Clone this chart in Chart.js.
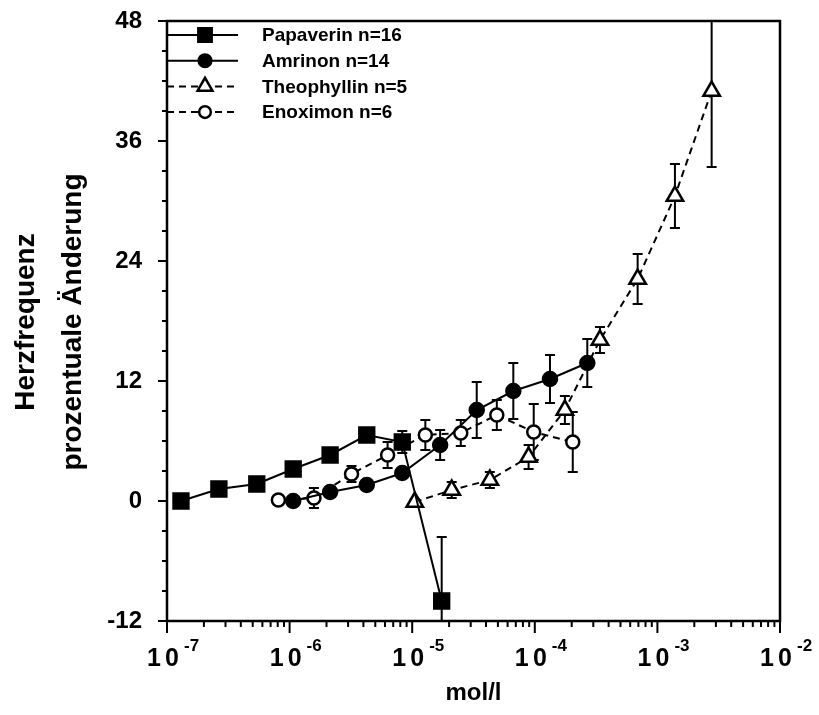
<!DOCTYPE html>
<html>
<head>
<meta charset="utf-8">
<script src="https://cdn.jsdelivr.net/npm/chart.js@4.4.1/dist/chart.umd.min.js"></script>
<style>
  html, body { margin: 0; background: #fff; }
</style>
</head>
<body>
<canvas id="c" width="819" height="715"></canvas>
<script>
// values (x in mol/l, y in % change)
const papaverinConc = [1.3e-7, 2.65e-7, 5.4e-7, 1.07e-6, 2.14e-6, 4.26e-6, 8.3e-6, 1.74e-5];
const papaverinValues = [0, 1.2, 1.7, 3.2, 4.6, 6.6, 5.9, -10.0];
const papaverinErr = [0.3, 0.3, 0.3, 0.4, 0.4, 0.4, 1.1, 6.4];

const amrinonConc = [1.07e-6, 2.14e-6, 4.26e-6, 8.3e-6, 1.69e-5, 3.36e-5, 6.68e-5, 1.33e-4, 2.68e-4];
const amrinonValues = [0, 0.9, 1.6, 2.8, 5.6, 9.1, 11.0, 12.2, 13.8];
const amrinonErr = [0.3, 0.3, 0.3, 0.4, 1.5, 2.8, 2.8, 2.4, 2.4];

const theophyllinConc = [1.05e-5, 2.1e-5, 4.3e-5, 8.9e-5, 1.76e-4, 3.4e-4, 6.9e-4, 1.39e-3, 2.77e-3];
const theophyllinValues = [-0.1, 1.1, 2.1, 4.4, 9.1, 16.1, 22.2, 30.5, 41.0];
const theophyllinErr = [0.3, 0.8, 0.8, 1.2, 1.4, 1.3, 2.5, 3.2, 7.6];

const enoximonConc = [8.1e-7, 1.58e-6, 3.2e-6, 6.3e-6, 1.28e-5, 2.49e-5, 4.9e-5, 9.8e-5, 2.04e-4];
const enoximonValues = [0.1, 0.3, 2.7, 4.6, 6.6, 6.8, 8.6, 6.9, 5.9];
const enoximonErr = [0.3, 1.0, 0.8, 1.3, 1.5, 1.3, 1.5, 2.8, 3.0];

const yTicks = [-12, 0, 12, 24, 36, 48];
const xDecades = [-7, -6, -5, -4, -3, -2];

const FONT = '"Liberation Sans", Arial, Helvetica, sans-serif';

function pairs(xs, ys) {
  return xs.map((x, i) => ({ x: x, y: ys[i] }));
}

// small marker drawer for the legend
function marker(ctx, style, r, filled, x, y) {
  ctx.beginPath();
  if (style === 'rect') {
    const s = Math.SQRT1_2 * r;
    ctx.rect(x - s, y - s, 2 * s, 2 * s);
  } else if (style === 'triangle') {
    const edge = 3 * r / Math.sqrt(3);
    const h = edge * Math.sqrt(3) / 2;
    ctx.moveTo(x - edge / 2, y + h / 3);
    ctx.lineTo(x + edge / 2, y + h / 3);
    ctx.lineTo(x, y - 2 * h / 3);
    ctx.closePath();
  } else {
    ctx.arc(x, y, r, 0, Math.PI * 2);
  }
  ctx.fillStyle = filled ? '#000' : '#fff';
  ctx.fill();
  ctx.lineWidth = 2.5;
  ctx.strokeStyle = '#000';
  ctx.stroke();
}

const errorBars = {
  id: 'errorBars',
  beforeDatasetsDraw(chart) {
    const ctx = chart.ctx, ys = chart.scales.y, a = chart.chartArea;
    ctx.save();
    ctx.beginPath();
    ctx.rect(a.left, a.top, a.right - a.left, a.bottom - a.top);
    ctx.clip();
    ctx.strokeStyle = '#000';
    ctx.lineWidth = 2;
    chart.data.datasets.forEach((ds, di) => {
      const meta = chart.getDatasetMeta(di);
      ds.errors.forEach((e, i) => {
        const p = meta.data[i];
        const v = ds.data[i].y;
        const y1 = ys.getPixelForValue(v + e);
        const y2 = ys.getPixelForValue(v - e);
        ctx.beginPath();
        ctx.moveTo(p.x, y1); ctx.lineTo(p.x, y2);
        ctx.moveTo(p.x - 5, y1); ctx.lineTo(p.x + 5, y1);
        ctx.moveTo(p.x - 5, y2); ctx.lineTo(p.x + 5, y2);
        ctx.stroke();
      });
    });
    ctx.restore();
  }
};

const frame = {
  id: 'frame',
  afterDraw(chart) {
    const ctx = chart.ctx, a = chart.chartArea;
    const xs = chart.scales.x, ys = chart.scales.y;
    ctx.save();
    ctx.strokeStyle = '#000';
    ctx.fillStyle = '#000';

    // box
    ctx.lineWidth = 2.5;
    ctx.strokeRect(a.left, a.top, a.right - a.left, a.bottom - a.top);

    // y ticks (outside), minor every 3
    ctx.lineWidth = 2;
    for (let v = -12; v <= 48; v += 3) {
      const py = ys.getPixelForValue(v);
      const len = v % 12 === 0 ? 9 : 5;
      ctx.beginPath();
      ctx.moveTo(a.left, py); ctx.lineTo(a.left - len, py);
      ctx.stroke();
    }

    // x ticks (outside), log minors
    xDecades.forEach(d => {
      for (let m = 1; m <= 9; m++) {
        if (d === -2 && m > 1) break;
        const px = xs.getPixelForValue(m * Math.pow(10, d));
        const len = m === 1 ? 12 : 6;
        ctx.beginPath();
        ctx.moveTo(px, a.bottom); ctx.lineTo(px, a.bottom + len);
        ctx.stroke();
      }
    });

    // x tick labels 10^n
    xDecades.forEach(d => {
      const px = xs.getPixelForValue(Math.pow(10, d));
      ctx.font = 'bold 25px ' + FONT;
      ctx.textAlign = 'right';
      ctx.textBaseline = 'alphabetic';
      ctx.fillText('1\u20060', px + 12, 666);
      ctx.font = 'bold 17px ' + FONT;
      ctx.textAlign = 'left';
      ctx.fillText('-' + Math.abs(d), px + 17, 651);
    });

    // axis titles
    ctx.font = 'bold 24px ' + FONT;
    ctx.textAlign = 'center';
    ctx.textBaseline = 'middle';
    ctx.fillText('mol/l', (a.left + a.right) / 2, 693);

    ctx.font = 'bold 28px ' + FONT;
    ctx.save();
    ctx.translate(26, 322);
    ctx.rotate(-Math.PI / 2);
    ctx.fillText('Herzfrequenz', 0, 0);
    ctx.restore();
    ctx.save();
    ctx.translate(73, 322);
    ctx.rotate(-Math.PI / 2);
    ctx.fillText('prozentuale \u00c4nderung', 0, 0);
    ctx.restore();

    // legend
    chart.data.datasets.forEach((ds, i) => {
      const ly = 35 + i * 25.7;
      ctx.setLineDash(ds.borderDash || []);
      ctx.lineWidth = 2;
      ctx.strokeStyle = '#000';
      ctx.beginPath();
      ctx.moveTo(a.left, ly); ctx.lineTo(a.left + 71, ly);
      ctx.stroke();
      ctx.setLineDash([]);
      marker(ctx, ds.pointStyle, ds.pointRadius * 0.9, ds.pointBackgroundColor === '#000', a.left + 38, ly);
      ctx.fillStyle = '#000';
      ctx.font = 'bold 19px ' + FONT;
      ctx.textAlign = 'left';
      ctx.textBaseline = 'middle';
      ctx.fillText(ds.label, a.left + 95, ly + 1);
    });
    ctx.restore();
  }
};

function series(label, xs, ys, errs, style, radius, filled, dashed) {
  return {
    label: label,
    data: pairs(xs, ys),
    errors: errs,
    borderColor: '#000',
    borderWidth: 2,
    borderDash: dashed ? [7, 5] : [],
    pointStyle: style,
    pointRadius: radius,
    pointBackgroundColor: filled ? '#000' : '#fff',
    pointBorderColor: '#000',
    pointBorderWidth: 2.5,
    tension: 0,
    fill: false
  };
}

new Chart(document.getElementById('c'), {
  type: 'line',
  data: {
    datasets: [
      series('Papaverin n=16', papaverinConc, papaverinValues, papaverinErr, 'rect', 10.5, true, false),
      series('Amrinon n=14', amrinonConc, amrinonValues, amrinonErr, 'circle', 7, true, false),
      series('Theophyllin n=5', theophyllinConc, theophyllinValues, theophyllinErr, 'triangle', 9.5, false, true),
      series('Enoximon n=6', enoximonConc, enoximonValues, enoximonErr, 'circle', 6.5, false, true)
    ]
  },
  options: {
    responsive: false,
    animation: false,
    layout: { padding: { top: 21, right: 39, left: 0, bottom: 0 } },
    plugins: { legend: { display: false }, tooltip: { enabled: false } },
    scales: {
      x: {
        type: 'logarithmic',
        min: 1e-7,
        max: 1e-2,
        grid: { display: false },
        border: { display: false },
        ticks: { display: false },
        afterFit: s => { s.height = 94; s.paddingLeft = 0; s.paddingRight = 0; }
      },
      y: {
        min: -12,
        max: 48,
        grid: { display: false },
        border: { display: false },
        afterBuildTicks: s => { s.ticks = yTicks.map(v => ({ value: v })); },
        afterFit: s => { s.width = 167; s.paddingTop = 0; s.paddingBottom = 0; },
        ticks: {
          color: '#000',
          padding: 17,
          font: { family: FONT, size: 24, weight: 'bold' }
        }
      }
    }
  },
  plugins: [errorBars, frame]
});
</script>
</body>
</html>
